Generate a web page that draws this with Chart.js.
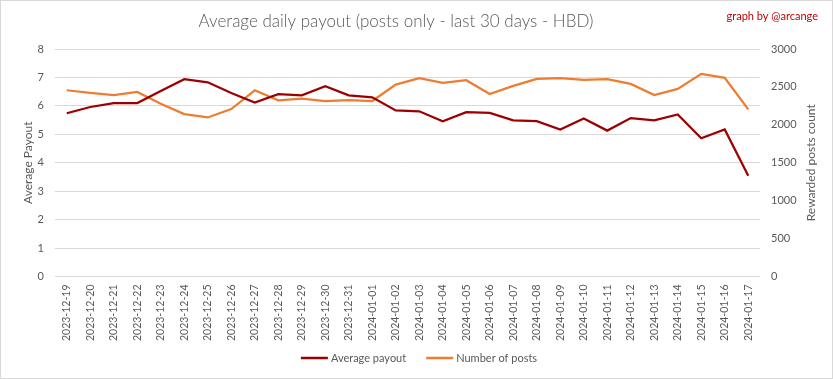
<!DOCTYPE html>
<html><head><meta charset="utf-8">
<script src="https://cdn.jsdelivr.net/npm/chart.js@4.4.1/dist/chart.umd.min.js"></script>
<style>html,body{margin:0;padding:0;background:#fff}#wrap{width:833px;height:379px;position:relative}</style>
</head><body>
<div id="wrap"><canvas id="c" width="833" height="379"></canvas></div>
<script>
const dates = ["2023-12-19","2023-12-20","2023-12-21","2023-12-22","2023-12-23","2023-12-24","2023-12-25","2023-12-26","2023-12-27","2023-12-28","2023-12-29","2023-12-30","2023-12-31","2024-01-01","2024-01-02","2024-01-03","2024-01-04","2024-01-05","2024-01-06","2024-01-07","2024-01-08","2024-01-09","2024-01-10","2024-01-11","2024-01-12","2024-01-13","2024-01-14","2024-01-15","2024-01-16","2024-01-17"];
const averagePayout = [5.74,5.96,6.10,6.10,6.52,6.94,6.83,6.45,6.12,6.41,6.37,6.69,6.37,6.30,5.84,5.81,5.46,5.78,5.75,5.49,5.46,5.17,5.56,5.13,5.57,5.49,5.70,4.86,5.17,3.54];
const numberOfPosts = [2456,2420,2393,2433,2279,2141,2097,2208,2456,2323,2345,2314,2327,2314,2531,2615,2553,2588,2407,2513,2606,2615,2593,2602,2540,2393,2473,2672,2619,2203];
const leftTicks = [0,1,2,3,4,5,6,7,8];
const rightTicks = [0,500,1000,1500,2000,2500,3000];
const seriesNames = ['Average payout', 'Number of posts'];
const seriesColors = ['#9c0000', '#ed7d31'];

const FONT = "Lato, 'Open Sans', sans-serif";
const GREY = '#595959';

const extras = {
  id: 'extras',
  afterDraw(chart) {
    const ctx = chart.ctx;
    const ca = chart.chartArea;
    ctx.save();
    ctx.strokeStyle = '#d9d9d9';
    ctx.lineWidth = 1;
    ctx.strokeRect(0.5, 0.5, 832, 378);
    // title
    ctx.fillStyle = GREY;
    ctx.font = "300 17px " + FONT;
    ctx.textAlign = 'center';
    ctx.textBaseline = 'middle';
    ctx.fillText('Average daily payout (posts only - last 30 days - HBD)', 396, 22);
    // signature
    ctx.fillStyle = '#c00000';
    ctx.font = "11px " + FONT;
    ctx.textAlign = 'right';
    ctx.fillText('graph by @arcange', 818, 16);
    // legend
    ctx.font = "11px " + FONT;
    ctx.textAlign = 'left';
    const lineW = 27, gap = 3, itemGap = 20;
    const widths = seriesNames.map(n => lineW + gap + ctx.measureText(n).width);
    const total = widths[0] + itemGap + widths[1];
    let x = 419 - total / 2;
    const ly = 358;
    seriesNames.forEach((n, i) => {
      ctx.strokeStyle = seriesColors[i];
      ctx.lineWidth = 2.5;
      ctx.beginPath(); ctx.moveTo(x, ly); ctx.lineTo(x + lineW, ly); ctx.stroke();
      ctx.fillStyle = GREY;
      ctx.fillText(n, x + lineW + gap, ly);
      x += widths[i] + itemGap;
    });
    // right axis title
    ctx.translate(811, (ca.top + ca.bottom) / 2);
    ctx.rotate(-Math.PI / 2);
    ctx.fillStyle = GREY;
    ctx.font = "12px " + FONT;
    ctx.textAlign = 'center';
    ctx.fillText('Rewarded posts count', 0, 0);
    ctx.restore();
  }
};

new Chart(document.getElementById('c'), {
  type: 'line',
  data: {
    labels: dates,
    datasets: [
      { label: seriesNames[0], data: averagePayout, yAxisID: 'y', borderColor: seriesColors[0], backgroundColor: seriesColors[0], borderWidth: 2.25, pointRadius: 0, tension: 0 },
      { label: seriesNames[1], data: numberOfPosts, yAxisID: 'y1', borderColor: seriesColors[1], backgroundColor: seriesColors[1], borderWidth: 2.25, pointRadius: 0, tension: 0 }
    ]
  },
  options: {
    responsive: false,
    animation: false,
    layout: { padding: { left: 0, right: 0, top: 49, bottom: 30 } },
    plugins: {
      title: { display: false },
      legend: { display: false },
      tooltip: { enabled: false }
    },
    scales: {
      x: {
        offset: true,
        grid: { display: false, drawTicks: false },
        border: { display: false },
        ticks: { color: GREY, font: { family: FONT, size: 10.5 }, minRotation: 90, maxRotation: 90, padding: 8, autoSkip: false }
      },
      y: {
        position: 'left',
        min: 0, max: 8,
        afterBuildTicks(s) { s.ticks = leftTicks.map(v => ({ value: v })); },
        afterFit(s) { s.width = 55; },
        grid: { color: '#d9d9d9', drawTicks: false },
        border: { display: false },
        ticks: { color: GREY, font: { family: FONT, size: 11 }, padding: 11 },
        title: { display: true, text: 'Average Payout', color: GREY, font: { family: FONT, size: 12 }, padding: { top: 21, bottom: 0 } }
      },
      y1: {
        position: 'right',
        min: 0, max: 3000,
        afterBuildTicks(s) { s.ticks = rightTicks.map(v => ({ value: v })); },
        afterFit(s) { s.width = 73; },
        grid: { display: false, drawTicks: false },
        border: { display: false },
        ticks: { color: GREY, font: { family: FONT, size: 11 }, padding: 11, callback: v => String(v) }
      }
    }
  },
  plugins: [extras]
});
</script>
</body></html>
